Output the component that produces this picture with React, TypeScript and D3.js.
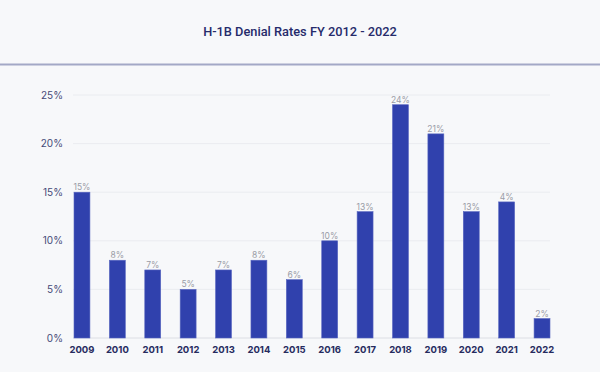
import React, { useEffect, useRef } from 'react';
import * as d3 from 'd3';

const years = ['2009', '2010', '2011', '2012', '2013', '2014', '2015', '2016', '2017', '2018', '2019', '2020', '2021', '2022'];
const denialRates = [15, 8, 7, 5, 7, 8, 6, 10, 13, 24, 21, 13, 14, 2];
const rateLabels = ['15%', '8%', '7%', '5%', '7%', '8%', '6%', '10%', '13%', '24%', '21%', '13%', '4%', '2%'];
const yTicks = [0, 5, 10, 15, 20, 25];

export default function App() {
  const ref = useRef<SVGSVGElement>(null);

  useEffect(() => {
    const width = 600;
    const height = 372;
    const svg = d3.select(ref.current).attr('width', width).attr('height', height);
    svg.selectAll('*').remove();

    svg.append('rect').attr('width', width).attr('height', height).attr('fill', '#f7f8fa');

    svg.append('text')
      .attr('x', width / 2)
      .attr('y', 36)
      .attr('text-anchor', 'middle')
      .attr('font-family', 'Roboto, sans-serif')
      .attr('font-size', 12.8)
      .attr('font-weight', 500)
      .attr('fill', '#262b6b')
      .text('H-1B Denial Rates FY 2012 - 2022');

    svg.append('line')
      .attr('x1', 0).attr('x2', width)
      .attr('y1', 64.5).attr('y2', 64.5)
      .attr('stroke', '#a3a8c6')
      .attr('stroke-width', 2);

    const x = d3.scaleBand().domain(years).range([74, 550]).paddingInner(0.55).paddingOuter(0);
    const y = d3.scaleLinear().domain([0, 25]).range([338, 95]);

    const grid = svg.append('g');
    grid.selectAll('line')
      .data(yTicks)
      .join('line')
      .attr('x1', 73).attr('x2', 550)
      .attr('y1', d => y(d)).attr('y2', d => y(d))
      .attr('stroke', d => d === 0 ? '#dcdee4' : '#eaecf0')
      .attr('stroke-width', 1);

    grid.selectAll('text')
      .data(yTicks)
      .join('text')
      .attr('x', 63)
      .attr('y', d => y(d))
      .attr('dy', '0.35em')
      .attr('text-anchor', 'end')
      .attr('font-family', 'Inter, sans-serif')
      .attr('font-size', 10)
      .attr('fill', '#454a78')
      .text(d => `${d}%`);

    svg.append('g')
      .selectAll('rect')
      .data(denialRates)
      .join('rect')
      .attr('x', (d, i) => x(years[i])!)
      .attr('y', d => y(d))
      .attr('width', x.bandwidth())
      .attr('height', d => y(0) - y(d))
      .attr('fill', '#3041ad')
      .attr('stroke', '#5866c0')
      .attr('stroke-width', 0.6);

    svg.append('g')
      .selectAll('text')
      .data(denialRates)
      .join('text')
      .attr('x', (d, i) => x(years[i])! + x.bandwidth() / 2)
      .attr('y', d => y(d) - 2)
      .attr('text-anchor', 'middle')
      .attr('font-family', 'Inter, sans-serif')
      .attr('font-size', 8.5)
      .attr('fill', '#9a9ca6')
      .text((d, i) => rateLabels[i]);

    svg.append('g')
      .selectAll('text')
      .data(years)
      .join('text')
      .attr('x', d => x(d)! + x.bandwidth() / 2)
      .attr('y', 353)
      .attr('text-anchor', 'middle')
      .attr('font-family', 'Inter, sans-serif')
      .attr('font-size', 9.5)
      .attr('font-weight', 700)
      .attr('fill', '#262b5e')
      .text(d => d);
  }, []);

  return <svg ref={ref} style={{ position: 'absolute', left: 0, top: 0, display: 'block' }} />;
}
